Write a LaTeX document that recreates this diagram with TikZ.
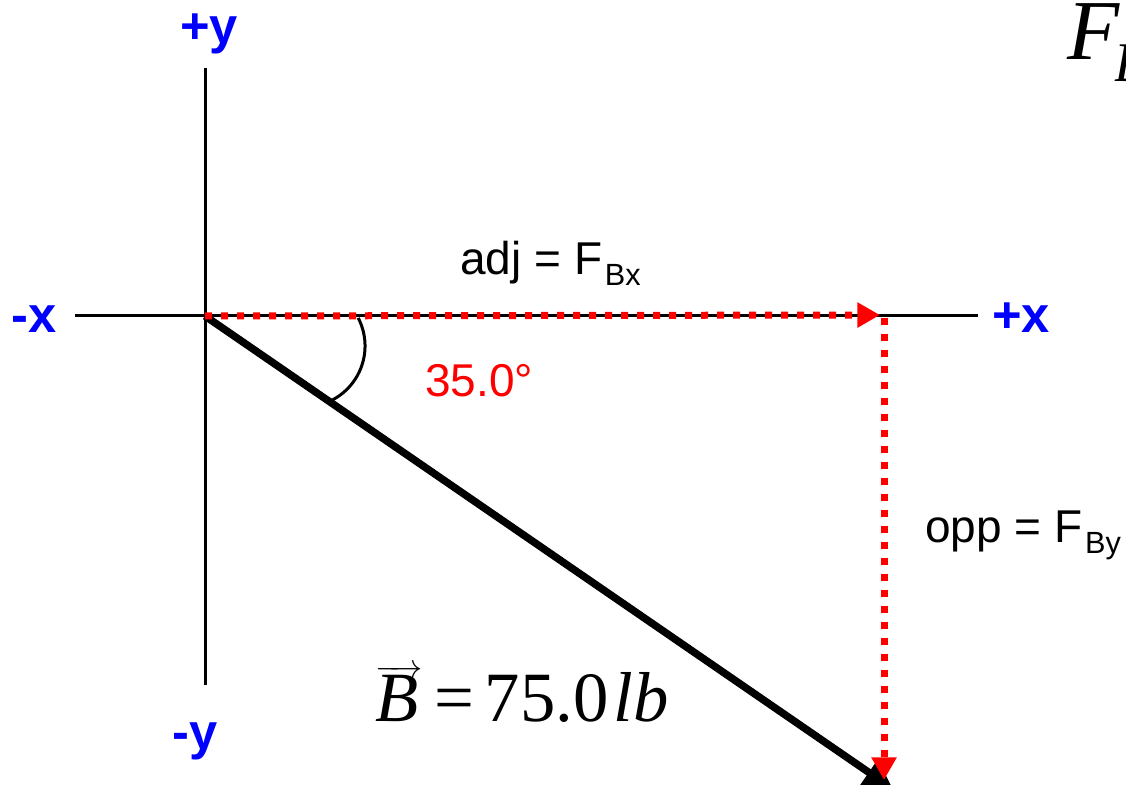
\documentclass[tikz,border=0pt]{standalone}
\usepackage{fontspec}
\setmainfont{Liberation Sans}
\newfontfamily\tms{Liberation Serif}
\usetikzlibrary{arrows.meta}
\definecolor{axblue}{RGB}{0,0,255}
\definecolor{compred}{RGB}{255,0,0}
\begin{document}
\begin{tikzpicture}[x=0.75pt,y=0.75pt,
  axis/.style={line width=2.25pt},
  comp/.style={compred, line width=5.25pt, dash pattern=on 5.25pt off 6.75pt, -{Triangle[length=17pt,width=18pt]}},
  vec/.style={line width=5.6pt, -{Triangle[length=22pt,width=22pt]}},
  axlabel/.style={text=axblue, font=\fontsize{38}{40}\selectfont\bfseries, inner sep=0pt, anchor=base},
  lab/.style={font=\fontsize{34.5}{36}\selectfont, inner sep=0pt, anchor=base west}]
\useasboundingbox (0,0) rectangle (1126,784);
% axes
\coordinate (O) at (205,468);
\coordinate (xl) at (75,468);
\coordinate (xr) at (978,468);
\coordinate (yt) at (205,716);
\coordinate (yb) at (205,99);
\draw[axis] (xl) -- (xr);
\draw[axis] (yt) -- (yb);
% resultant vector
\coordinate (Bt) at (893,-5);
\draw[vec] (O) -- (Bt);
% angle arc
\coordinate (arcS) at (358.2,466.1);
\draw[line width=2.25pt] (arcS) arc[start angle=27.4, end angle=-66.8, radius=45.75pt];
% components
\coordinate (Cx) at (880,469);
\coordinate (Cv) at (884,466);
\coordinate (Cy) at (884,4);
\draw[comp] (O) -- (Cx);
\draw[comp] (Cv) -- (Cy);
% axis labels
\node[axlabel] (py) at (209,740) {+y};
\node[axlabel] (my) at (195,34) {-y};
\node[axlabel] (mx) at (34,451) {-x};
\node[axlabel] (px) at (1021,451) {+x};
% labels
\node[lab] (adj) at (460,509) {adj = F\kern2pt\raisebox{-8pt}{\fontsize{23}{24}\selectfont Bx}};
\node[lab, text=compred] (ang) at (425,387) {35.0°};
\node[lab] (opp) at (925,241) {opp = F\kern2pt\raisebox{-8pt}{\fontsize{23}{24}\selectfont By}};
\node[font=\tms\fontsize{53}{58}\selectfont, inner sep=0pt, anchor=base west] (bl) at (375,62)
  {$\overrightarrow{\mbox{\itshape B\kern3pt}}$\kern9pt=\kern8pt75.0\kern4pt\textit{lb}};
\node[font=\tms\itshape\fontsize{64}{66}\selectfont, inner sep=0pt, anchor=base west] (fb) at (1067,724)
  {F\kern-4pt\raisebox{-16pt}{\fontsize{42}{44}\selectfont B}};
\end{tikzpicture}
\end{document}
